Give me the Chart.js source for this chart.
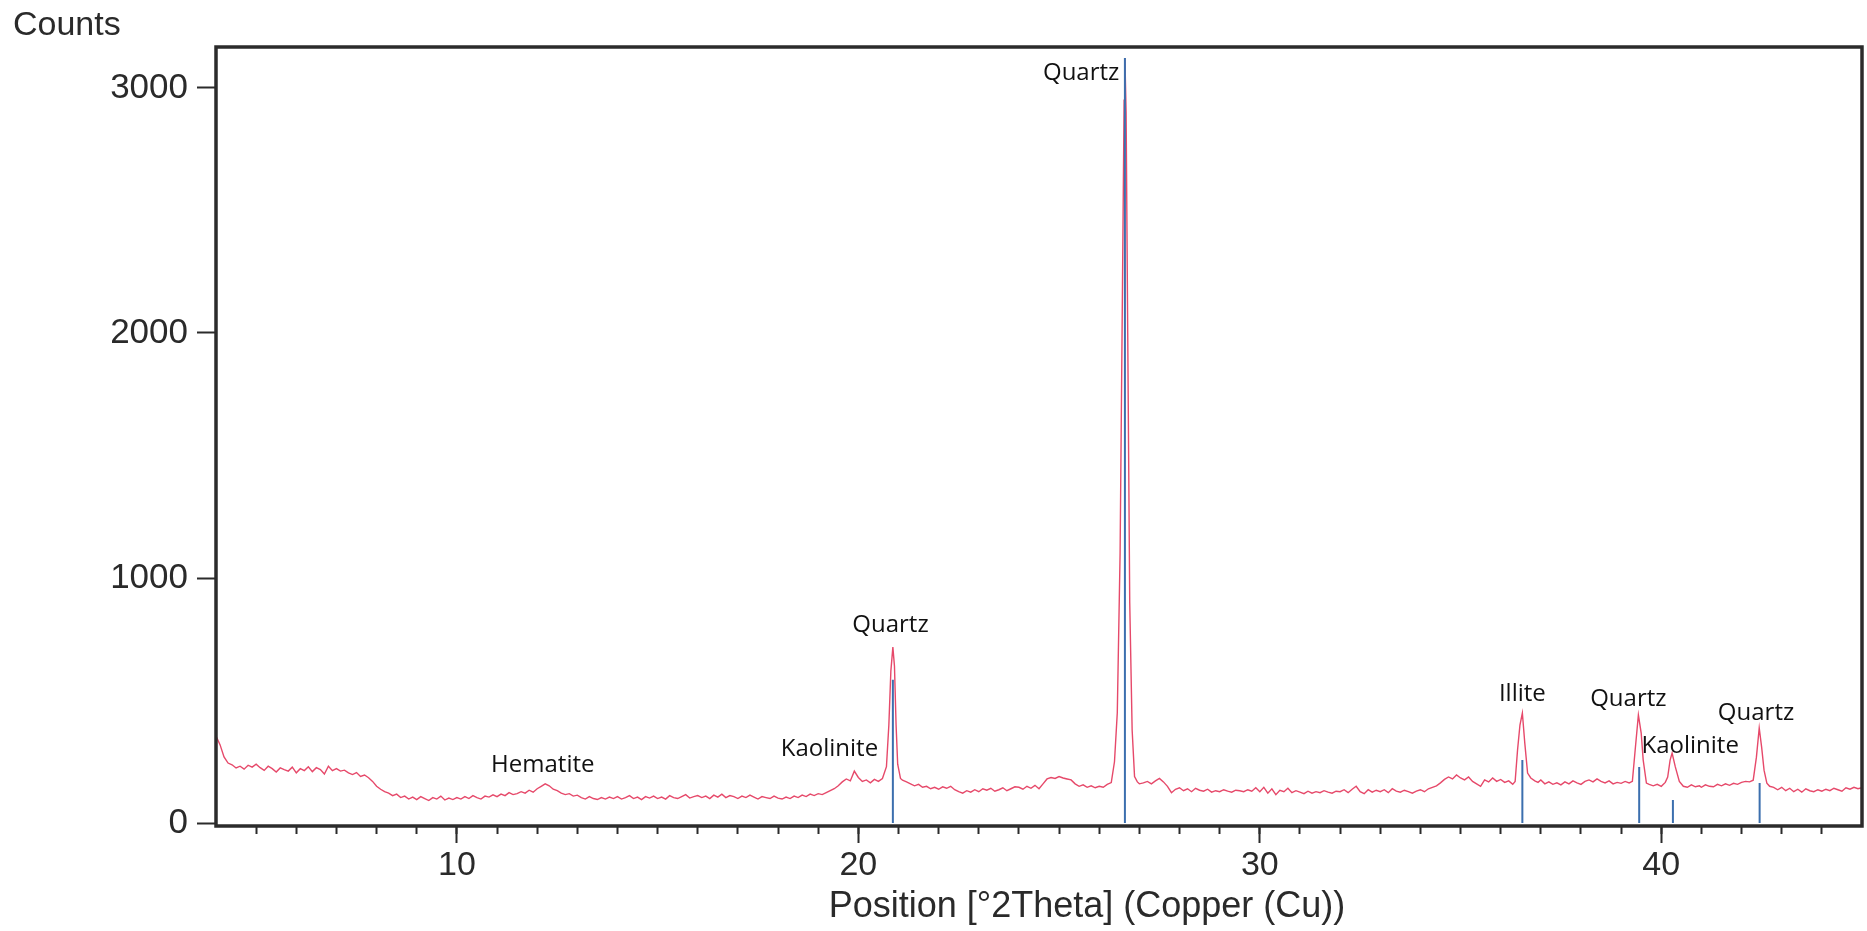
<!DOCTYPE html>
<html>
<head>
<meta charset="utf-8">
<title>XRD pattern</title>
<script src="https://cdn.jsdelivr.net/npm/chart.js@4.4.1/dist/chart.umd.min.js"></script>
<style>
  html, body { margin: 0; padding: 0; background: #fff; }
  #wrap { width: 1867px; height: 931px; position: relative; }
</style>
</head>
<body>
<div id="wrap"><canvas id="xrdChart"></canvas></div>
<script>
// measured pattern, one row per degree 2theta
const twoTheta = [
  4.0, 4.1, 4.2, 4.3, 4.4, 4.5, 4.6, 4.7, 4.8, 4.9,
  5.0, 5.1, 5.2, 5.3, 5.4, 5.5, 5.6, 5.7, 5.8, 5.9,
  6.0, 6.1, 6.2, 6.3, 6.4, 6.5, 6.6, 6.7, 6.8, 6.9,
  7.0, 7.1, 7.2, 7.3, 7.4, 7.5, 7.6, 7.7, 7.8, 7.9,
  8.0, 8.1, 8.2, 8.3, 8.4, 8.5, 8.6, 8.7, 8.8, 8.9,
  9.0, 9.1, 9.2, 9.3, 9.4, 9.5, 9.6, 9.7, 9.8, 9.9,
  10.0, 10.1, 10.2, 10.3, 10.4, 10.5, 10.6, 10.7, 10.8, 10.9,
  11.0, 11.1, 11.2, 11.3, 11.4, 11.5, 11.6, 11.7, 11.8, 11.9,
  12.0, 12.1, 12.2, 12.3, 12.4, 12.5, 12.6, 12.7, 12.8, 12.9,
  13.0, 13.1, 13.2, 13.3, 13.4, 13.5, 13.6, 13.7, 13.8, 13.9,
  14.0, 14.1, 14.2, 14.3, 14.4, 14.5, 14.6, 14.7, 14.8, 14.9,
  15.0, 15.1, 15.2, 15.3, 15.4, 15.5, 15.6, 15.7, 15.8, 15.9,
  16.0, 16.1, 16.2, 16.3, 16.4, 16.5, 16.6, 16.7, 16.8, 16.9,
  17.0, 17.1, 17.2, 17.3, 17.4, 17.5, 17.6, 17.7, 17.8, 17.9,
  18.0, 18.1, 18.2, 18.3, 18.4, 18.5, 18.6, 18.7, 18.8, 18.9,
  19.0, 19.1, 19.2, 19.3, 19.4, 19.5, 19.6, 19.7, 19.8, 19.9,
  20.0, 20.1, 20.2, 20.3, 20.4, 20.5, 20.6, 20.7, 20.76, 20.81, 20.86, 20.9, 20.94, 20.98,
  21.05, 21.1, 21.2, 21.3, 21.4, 21.5, 21.6, 21.7, 21.8, 21.9,
  22.0, 22.1, 22.2, 22.3, 22.4, 22.5, 22.6, 22.7, 22.8, 22.9,
  23.0, 23.1, 23.2, 23.3, 23.4, 23.5, 23.6, 23.7, 23.8, 23.9,
  24.0, 24.1, 24.2, 24.3, 24.4, 24.5, 24.6, 24.7, 24.8, 24.9,
  25.0, 25.1, 25.2, 25.3, 25.4, 25.5, 25.6, 25.7, 25.8, 25.9,
  26.0, 26.1, 26.2, 26.3, 26.38, 26.45, 26.52, 26.58, 26.62, 26.64, 26.67, 26.71, 26.76, 26.82, 26.88, 26.95,
  27.0, 27.1, 27.2, 27.3, 27.4, 27.5, 27.6, 27.7, 27.8, 27.9,
  28.0, 28.1, 28.2, 28.3, 28.4, 28.5, 28.6, 28.7, 28.8, 28.9,
  29.0, 29.1, 29.2, 29.3, 29.4, 29.5, 29.6, 29.7, 29.8, 29.9,
  30.0, 30.1, 30.2, 30.3, 30.4, 30.5, 30.6, 30.7, 30.8, 30.9,
  31.0, 31.1, 31.2, 31.3, 31.4, 31.5, 31.6, 31.7, 31.8, 31.9,
  32.0, 32.1, 32.2, 32.3, 32.4, 32.5, 32.6, 32.7, 32.8, 32.9,
  33.0, 33.1, 33.2, 33.3, 33.4, 33.5, 33.6, 33.7, 33.8, 33.9,
  34.0, 34.1, 34.2, 34.3, 34.4, 34.5, 34.6, 34.7, 34.8, 34.9,
  35.0, 35.1, 35.2, 35.3, 35.4, 35.5, 35.6, 35.7, 35.8, 35.9,
  36.0, 36.1, 36.2, 36.3, 36.36, 36.42, 36.48, 36.54, 36.6, 36.67, 36.75, 36.85, 36.93,
  37.0, 37.1, 37.2, 37.3, 37.4, 37.5, 37.6, 37.7, 37.8, 37.9,
  38.0, 38.1, 38.2, 38.3, 38.4, 38.5, 38.6, 38.7, 38.8, 38.9,
  39.0, 39.1, 39.2, 39.28, 39.35, 39.43, 39.5, 39.55, 39.63, 39.7, 39.8, 39.9,
  40.0, 40.1, 40.16, 40.22, 40.27, 40.35, 40.45, 40.55, 40.65, 40.75, 40.85, 40.95,
  41.0, 41.1, 41.2, 41.3, 41.4, 41.5, 41.6, 41.7, 41.8, 41.9,
  42.0, 42.1, 42.2, 42.29, 42.37, 42.44, 42.5, 42.56, 42.63, 42.7, 42.8, 42.9,
  43.0, 43.1, 43.2, 43.3, 43.4, 43.5, 43.6, 43.7, 43.8, 43.9,
  44.0, 44.1, 44.2, 44.3, 44.4, 44.5, 44.6, 44.7, 44.8, 44.9, 45.0
];
const counts = [
  355, 320, 270, 245, 238, 225, 232, 220, 236, 228,
  240, 226, 215, 232, 222, 208, 225, 218, 212, 228,
  205, 222, 214, 230, 210, 226, 218, 200, 232, 214,
  222, 212, 216, 205, 198, 206, 190, 196, 185, 170,
  150, 138, 128, 122, 112, 118, 104, 110, 98, 106,
  96, 108, 100, 92, 104, 98, 110, 94, 102, 96,
  104, 98, 108, 100, 112, 104, 98, 110, 106, 115,
  108, 118, 112, 124, 116, 120, 128, 122, 134, 126,
  140, 150, 160, 152, 138, 132, 122, 116, 120, 110,
  114, 104, 98, 108, 100, 96, 104, 98, 106, 100,
  108, 98, 104, 112, 100, 106, 96, 108, 102, 110,
  100, 106, 98, 112, 104, 100, 108, 116, 102, 108,
  112, 104, 110, 100, 114, 106, 118, 104, 112, 108,
  100, 110, 104, 114, 106, 98, 108, 104, 100, 110,
  102, 98, 106, 100, 110, 104, 114, 108, 118, 112,
  120, 116, 124, 132, 140, 152, 168, 180, 172, 212,
  186, 170, 176, 164, 178, 170, 182, 230, 400, 620, 718, 640, 400, 240,
  182, 175, 168, 160, 152, 158, 146, 150, 140, 146,
  138, 148, 142, 150, 136, 128, 122, 132, 126, 136,
  128, 140, 134, 142, 130, 136, 144, 132, 140, 148,
  146, 138, 150, 142, 154, 140, 160, 180, 186, 182,
  190, 184, 180, 176, 160, 150, 156, 146, 152, 144,
  150, 146, 158, 165, 250, 450, 1100, 2200, 2950, 3122, 2900, 2000, 900, 380, 190, 168,
  160, 164, 170, 160, 172, 182, 168, 150, 124, 138,
  144, 132, 140, 128, 142, 134, 130, 138, 126, 132,
  128, 136, 130, 126, 134, 132, 128, 136, 130, 144,
  128, 146, 122, 140, 116, 134, 128, 142, 124, 132,
  126, 120, 130, 122, 128, 124, 132, 126, 122, 130,
  128, 136, 124, 138, 150, 128, 120, 136, 126, 134,
  128, 136, 124, 140, 130, 126, 134, 128, 122, 130,
  136, 128, 140, 146, 152, 164, 178, 188, 180, 196,
  184, 176, 188, 170, 160, 150, 176, 168, 184, 170,
  178, 166, 172, 158, 170, 298, 400, 449, 327, 204, 184, 172, 166,
  176, 160, 168, 158, 164, 156, 168, 160, 172, 164,
  158, 170, 176, 168, 180, 170, 164, 172, 160, 166,
  162, 170, 164, 170, 298, 441, 367, 257, 163, 158, 152, 158,
  150, 166, 188, 257, 286, 229, 170, 150, 146, 156, 148, 152,
  146, 156, 150, 148, 158, 152, 160, 154, 162, 158,
  166, 170, 168, 175, 269, 388, 310, 216, 163, 150, 146, 136,
  146, 132, 142, 128, 138, 126, 140, 132, 128, 136,
  130, 138, 132, 142, 136, 130, 144, 138, 146, 140, 144
];

// reference peak sticks
const stickTheta = [20.86, 26.64, 36.54, 39.45, 40.29, 42.45];
const stickCounts = [585, 3122, 257, 229, 94, 163];

// phase labels (centre of text, in data units)
const phaseNames = ['Hematite', 'Kaolinite', 'Quartz', 'Quartz', 'Illite', 'Quartz', 'Kaolinite', 'Quartz'];
const phaseTheta = [12.14, 19.28, 20.80, 25.55, 36.54, 39.18, 40.72, 42.36];
const phaseCounts = [241, 306, 812, 3065, 531, 510, 318, 453];

const yTickValues = [0, 1000, 2000, 3000];
const xMajorTicks = [10, 20, 30, 40];
const xMinorTicks = [5, 6, 7, 8, 9, 10, 11, 12, 13, 14, 15, 16, 17, 18, 19, 20, 21, 22, 23, 24,
  25, 26, 27, 28, 29, 30, 31, 32, 33, 34, 35, 36, 37, 38, 39, 40, 41, 42, 43, 44];

const axisFont = 'Liberation Sans, Arial, sans-serif';
const inkColor = '#2a2a2a';

const patternData = twoTheta.map((t, i) => ({ x: t, y: counts[i] }));
const stickData = [];
stickTheta.forEach((t, i) => {
  stickData.push({ x: t, y: 0 }, { x: t, y: stickCounts[i] }, { x: t, y: null });
});

// box around the plot area
const framePlugin = {
  id: 'frame',
  afterDraw(chart) {
    const { ctx, chartArea: a } = chart;
    ctx.save();
    ctx.strokeStyle = '#2b2b2b';
    ctx.lineWidth = 3.5;
    ctx.strokeRect(a.left, a.top, a.right - a.left, a.bottom - a.top);
    ctx.restore();
  }
};

// phase names + the two axis captions
const textPlugin = {
  id: 'captions',
  afterDatasetsDraw(chart) {
    const { ctx, scales: { x, y } } = chart;
    ctx.save();
    ctx.font = '24px "Open Sans"';
    ctx.fillStyle = '#111';
    ctx.textAlign = 'center';
    ctx.textBaseline = 'alphabetic';
    phaseNames.forEach((name, i) => {
      ctx.fillText(name, x.getPixelForValue(phaseTheta[i]), y.getPixelForValue(phaseCounts[i]) + 8);
    });
    ctx.fillStyle = inkColor;
    ctx.font = '34px "Liberation Sans"';
    ctx.textAlign = 'left';
    ctx.fillText('Counts', 13, 35);
    ctx.font = '36px "Liberation Sans"';
    ctx.textAlign = 'center';
    ctx.fillText('Position [°2Theta] (Copper (Cu))', 1087, 917);
    ctx.restore();
  }
};

const ctx = document.getElementById('xrdChart').getContext('2d');
const xrdChart = new Chart(ctx, {
  type: 'line',
  data: {
    datasets: [
      {
        label: 'Reference peaks',
        data: stickData,
        borderColor: '#3c6fae',
        borderWidth: 2,
        pointRadius: 0,
        spanGaps: false,
        tension: 0
      },
      {
        label: 'Counts',
        data: patternData,
        borderColor: '#e6496a',
        borderWidth: 1.4,
        pointRadius: 0,
        tension: 0
      }
    ]
  },
  options: {
    responsive: true,
    maintainAspectRatio: false,
    animation: false,
    devicePixelRatio: 1,
    layout: { padding: { left: 0, top: 47, right: 5, bottom: 0 } },
    plugins: {
      legend: { display: false },
      tooltip: { enabled: false },
      title: { display: false }
    },
    scales: {
      xMinor: {
        type: 'linear',
        position: 'bottom',
        weight: 0,
        min: 4,
        max: 45,
        afterBuildTicks: s => { s.ticks = xMinorTicks.map(v => ({ value: v })); },
        afterFit: s => { s.height = 0; },
        border: { display: false },
        grid: { drawOnChartArea: false, drawTicks: true, tickLength: 8, tickColor: '#2b2b2b', tickWidth: 2 },
        ticks: { display: false }
      },
      x: {
        type: 'linear',
        position: 'bottom',
        weight: 1,
        min: 4,
        max: 45,
        afterBuildTicks: s => { s.ticks = xMajorTicks.map(v => ({ value: v })); },
        afterFit: s => { s.height = 105; },
        border: { display: false },
        grid: { drawOnChartArea: false, drawTicks: true, tickLength: 17, tickColor: '#2b2b2b', tickWidth: 2 },
        ticks: {
          font: { family: axisFont, size: 34 },
          color: inkColor,
          padding: 2,
          maxRotation: 0,
          autoSkip: false,
          callback: v => String(v)
        }
      },
      y: {
        type: 'linear',
        min: -12,
        max: 3167,
        afterBuildTicks: s => { s.ticks = yTickValues.map(v => ({ value: v })); },
        afterFit: s => { s.width = 216; },
        border: { display: false },
        grid: { drawOnChartArea: false, drawTicks: true, tickLength: 19, tickColor: '#2b2b2b', tickWidth: 2 },
        ticks: {
          font: { family: axisFont, size: 35 },
          color: inkColor,
          padding: 9,
          callback: v => String(v)
        }
      }
    }
  },
  plugins: [framePlugin, textPlugin]
});
</script>
</body>
</html>
